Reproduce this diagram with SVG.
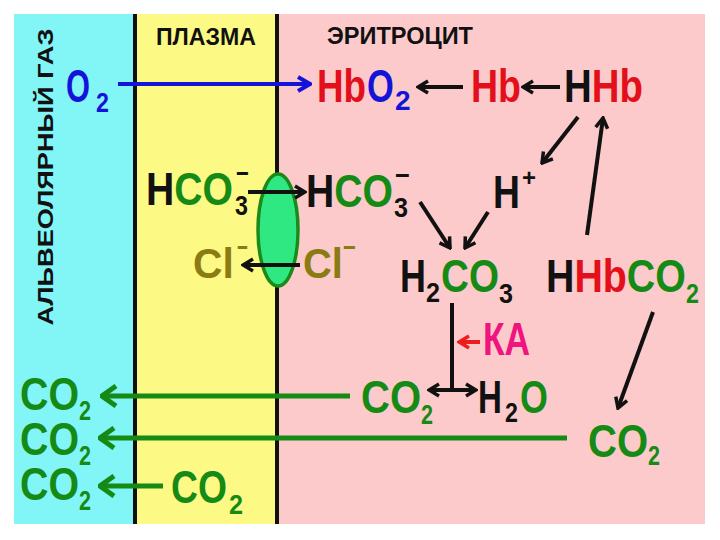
<svg xmlns="http://www.w3.org/2000/svg" width="720" height="540" viewBox="0 0 720 540">
<defs>
<style>
.f{font-family:"Liberation Sans",Arial,sans-serif;font-weight:bold}
.big{font-size:46px}
.sub{font-size:28px}
.hdr{font-size:23px;fill:#111}
.k{fill:#111}.r{fill:#e3101c}.b{fill:#1414d8}.g{fill:#158a15}.o{fill:#8a7b12}.m{fill:#f0147e}
.ln{fill:none;stroke-linecap:butt}
.lk{stroke:#111;stroke-width:4}
.lg{stroke:#158a15;stroke-width:5}
.lb{stroke:#1414d8;stroke-width:4}
.lr{stroke:#ee1c1c;stroke-width:4}
</style>
<marker id="ak" viewBox="0 0 14 16" refX="12" refY="8" markerWidth="14" markerHeight="16" markerUnits="userSpaceOnUse" orient="auto"><path d="M2,2 L12,8 L2,14" fill="none" stroke="#111" stroke-width="3.5"/></marker>
<marker id="ab" viewBox="0 0 16 18" refX="14" refY="9" markerWidth="16" markerHeight="18" markerUnits="userSpaceOnUse" orient="auto"><path d="M2,2 L14,9 L2,16" fill="none" stroke="#1414d8" stroke-width="4"/></marker>
<marker id="ag" viewBox="0 0 18 24" refX="16" refY="12" markerWidth="18" markerHeight="24" markerUnits="userSpaceOnUse" orient="auto"><path d="M2,2 L16,12 L2,22" fill="none" stroke="#158a15" stroke-width="5"/></marker>
<marker id="ar" viewBox="0 0 14 16" refX="12" refY="8" markerWidth="14" markerHeight="16" markerUnits="userSpaceOnUse" orient="auto"><path d="M2,2 L12,8 L2,14" fill="none" stroke="#ee1c1c" stroke-width="3.5"/></marker>
</defs>
<rect width="720" height="540" fill="#fff"/>
<g id="panels">
<rect x="14" y="14" width="122" height="510" fill="#82f5f7"/>
<rect x="136" y="14" width="142" height="510" fill="#fcfa84"/>
<rect x="278" y="14" width="427" height="510" fill="#fccaca"/>
<line x1="135" y1="14" x2="135" y2="524" stroke="#111" stroke-width="4"/>
<line x1="277" y1="14" x2="277" y2="524" stroke="#111" stroke-width="4"/>
</g>
<g id="headers" class="f hdr">
<text x="53" y="177" transform="rotate(-90 53 177)" text-anchor="middle" textLength="297" lengthAdjust="spacingAndGlyphs" style="font-size:22px">АЛЬВЕОЛЯРНЫЙ ГАЗ</text>
<text x="156" y="45" textLength="100" lengthAdjust="spacingAndGlyphs">ПЛАЗМА</text>
<text x="327" y="44" textLength="146" lengthAdjust="spacingAndGlyphs">ЭРИТРОЦИТ</text>
</g>
<g id="membrane-carrier">
<ellipse cx="278" cy="230" rx="20" ry="56" fill="#30e882" stroke="#1b8a1b" stroke-width="3.5"/>
</g>
<g id="o2-alv" class="f b">
<text transform="translate(66,102) scale(0.67,1)" class="big">O</text>
<text transform="translate(96,112) scale(0.83,1)" class="sub">2</text>
</g>
<g id="hbo2" class="f">
<text transform="translate(317,102) scale(0.8,1)" class="big r">Hb</text>
<text transform="translate(367,102) scale(0.75,1)" class="big b">O</text>
<text transform="translate(395,110)" class="sub b">2</text>
</g>
<g id="hb" class="f"><text transform="translate(471,102) scale(0.815,1)" class="big r">Hb</text></g>
<g id="hhb" class="f"><text transform="translate(564,102) scale(0.835,1)" class="big"><tspan class="k">H</tspan><tspan class="r">Hb</tspan></text></g>
<g id="hco3-plasma" class="f">
<text transform="translate(146,205) scale(0.85,1)" class="big"><tspan class="k">H</tspan><tspan class="g">CO</tspan></text>
<text transform="translate(235,215) scale(0.83,1)" class="sub k">3</text>
<text transform="translate(236,183) scale(0.79,1)" class="sub k">−</text>
</g>
<g id="hco3-ery" class="f">
<text transform="translate(306,207) scale(0.85,1)" class="big"><tspan class="k">H</tspan><tspan class="g">CO</tspan></text>
<text transform="translate(394,217) scale(0.9,1)" class="sub k">3</text>
<text transform="translate(395,185) scale(0.91,1)" class="sub k">−</text>
</g>
<g id="cl-plasma" class="f o">
<text transform="translate(193,278) scale(0.97,1)" style="font-size:42px">Cl</text>
<text transform="translate(237,257) scale(0.67,1)" class="sub">−</text>
</g>
<g id="cl-ery" class="f o">
<text transform="translate(303,278) scale(0.95,1)" style="font-size:42px">Cl</text>
<text transform="translate(343,257) scale(0.79,1)" class="sub">−</text>
</g>
<g id="h-plus" class="f k">
<text transform="translate(493,208) scale(0.81,1)" class="big">H</text>
<text transform="translate(522,186)" style="font-size:24px">+</text>
</g>
<g id="h2co3" class="f">
<text transform="translate(400,292) scale(0.78,1)" class="big k">H</text>
<text transform="translate(426,302) scale(0.9,1)" class="sub k">2</text>
<text transform="translate(441,292) scale(0.84,1)" class="big g">CO</text>
<text transform="translate(499,303) scale(0.9,1)" class="sub k">3</text>
</g>
<g id="hhbco2" class="f">
<text transform="translate(546,292) scale(0.855,1)" class="big"><tspan class="k">H</tspan><tspan class="r">Hb</tspan><tspan class="g">CO</tspan></text>
<text transform="translate(686,303) scale(0.83,1)" class="sub g">2</text>
</g>
<g id="ka" class="f"><text transform="translate(483,355) scale(0.77,1)" class="big m">КА</text></g>
<g id="co2-ery" class="f g">
<text transform="translate(361,413) scale(0.87,1)" class="big">CO</text>
<text transform="translate(421,424) scale(0.77,1)" class="sub">2</text>
</g>
<g id="h2o" class="f">
<text transform="translate(478,413) scale(0.72,1)" class="big k">H</text>
<text transform="translate(505,422) scale(0.83,1)" class="sub k">2</text>
<text transform="translate(520,413) scale(0.78,1)" class="big g">O</text>
</g>
<g id="co2-right" class="f g">
<text transform="translate(588,457) scale(0.87,1)" class="big">CO</text>
<text transform="translate(648,465) scale(0.77,1)" class="sub">2</text>
</g>
<g id="co2-alv1" class="f g">
<text transform="translate(20,410) scale(0.855,1)" class="big">CO</text>
<text transform="translate(79,420) scale(0.77,1)" class="sub">2</text>
</g>
<g id="co2-alv2" class="f g">
<text transform="translate(20,455) scale(0.855,1)" class="big">CO</text>
<text transform="translate(79,465) scale(0.77,1)" class="sub">2</text>
</g>
<g id="co2-alv3" class="f g">
<text transform="translate(20,500) scale(0.855,1)" class="big">CO</text>
<text transform="translate(79,510) scale(0.77,1)" class="sub">2</text>
</g>
<g id="co2-plasma" class="f g">
<text transform="translate(171,503) scale(0.81,1)" class="big">CO</text>
<text transform="translate(229,514) scale(0.9,1)" class="sub">2</text>
</g>
<g id="connectors" class="ln">
<line x1="118" y1="84" x2="310" y2="84" class="lb" marker-end="url(#ab)"/>
<line x1="463" y1="87" x2="418" y2="87" class="lk" marker-end="url(#ak)"/>
<line x1="560" y1="87" x2="523" y2="87" class="lk" marker-end="url(#ak)"/>
<line x1="578" y1="117" x2="542" y2="163" class="lk" marker-end="url(#ak)"/>
<line x1="587" y1="235" x2="603" y2="118" class="lk" marker-end="url(#ak)"/>
<line x1="248" y1="192" x2="305" y2="192" class="lk" marker-end="url(#ak)"/>
<line x1="300" y1="265" x2="243" y2="265" class="lk" marker-end="url(#ak)"/>
<line x1="420" y1="202" x2="450" y2="248" class="lk" marker-end="url(#ak)"/>
<line x1="488" y1="212" x2="465" y2="248" class="lk" marker-end="url(#ak)"/>
<path d="M452,303 V390 H429" class="lk" stroke-width="3" marker-end="url(#ak)"/>
<line x1="452" y1="390" x2="476" y2="390" class="lk" marker-end="url(#ak)"/>
<line x1="480" y1="342" x2="459" y2="342" class="lr" marker-end="url(#ar)"/>
<line x1="653" y1="312" x2="618" y2="408" class="lk" marker-end="url(#ak)"/>
<line x1="350" y1="396" x2="102" y2="396" class="lg" marker-end="url(#ag)"/>
<line x1="567" y1="438" x2="100" y2="438" class="lg" marker-end="url(#ag)"/>
<line x1="163" y1="486" x2="100" y2="486" class="lg" marker-end="url(#ag)"/>
</g>
</svg>
